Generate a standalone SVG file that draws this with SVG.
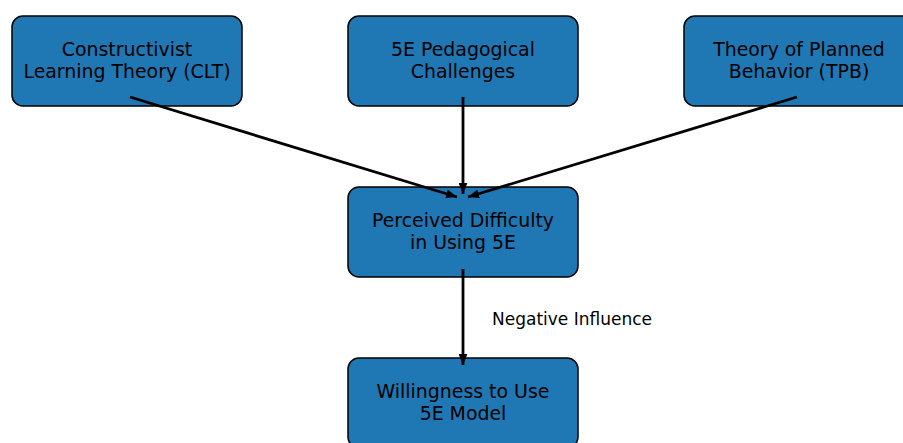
<svg xmlns="http://www.w3.org/2000/svg" width="903" height="443" viewBox="0 0 903 443">
<defs>
<style>
.box{fill:#1f77b4;stroke:#000;stroke-width:1.5}
.t{font-family:"DejaVu Sans",sans-serif;font-size:18.9px;fill:#000;text-anchor:middle}
.lbl{font-family:"DejaVu Sans",sans-serif;font-size:17px;fill:#000}
.c{stroke:#000;stroke-width:2.8;fill:none;marker-end:url(#ah)}
</style>
<marker id="ah" viewBox="0 0 10 8" refX="10" refY="4" markerUnits="userSpaceOnUse" markerWidth="11" markerHeight="9" orient="auto">
<path d="M0,0 L10,4 L0,8 Z" fill="#000"/>
</marker>
</defs>
<g id="clt">
<rect class="box" x="12" y="16" width="230" height="90" rx="11"/>
<text class="t" x="127" y="56">Constructivist</text>
<text class="t" x="127" y="78">Learning Theory (CLT)</text>
</g>
<g id="challenges">
<rect class="box" x="348" y="16" width="230" height="90" rx="11"/>
<text class="t" x="463" y="56">5E Pedagogical</text>
<text class="t" x="463" y="78">Challenges</text>
</g>
<g id="tpb">
<rect class="box" x="684" y="16" width="230" height="90" rx="11"/>
<text class="t" x="799" y="56">Theory of Planned</text>
<text class="t" x="799" y="78">Behavior (TPB)</text>
</g>
<g id="difficulty">
<rect class="box" x="348" y="187" width="230" height="90" rx="11"/>
<text class="t" x="463" y="227">Perceived Difficulty</text>
<text class="t" x="463" y="249">in Using 5E</text>
</g>
<g id="willingness">
<rect class="box" x="348" y="358" width="230" height="90" rx="11"/>
<text class="t" x="463" y="398">Willingness to Use</text>
<text class="t" x="463" y="420">5E Model</text>
</g>
<g id="connectors">
<line class="c" x1="130" y1="97" x2="457" y2="197"/>
<line class="c" x1="463" y1="97" x2="463" y2="194"/>
<line class="c" x1="797" y1="97" x2="468" y2="197"/>
<line class="c" x1="463" y1="269" x2="463" y2="365"/>
<text class="lbl" x="492" y="325">Negative Influence</text>
</g>
</svg>
